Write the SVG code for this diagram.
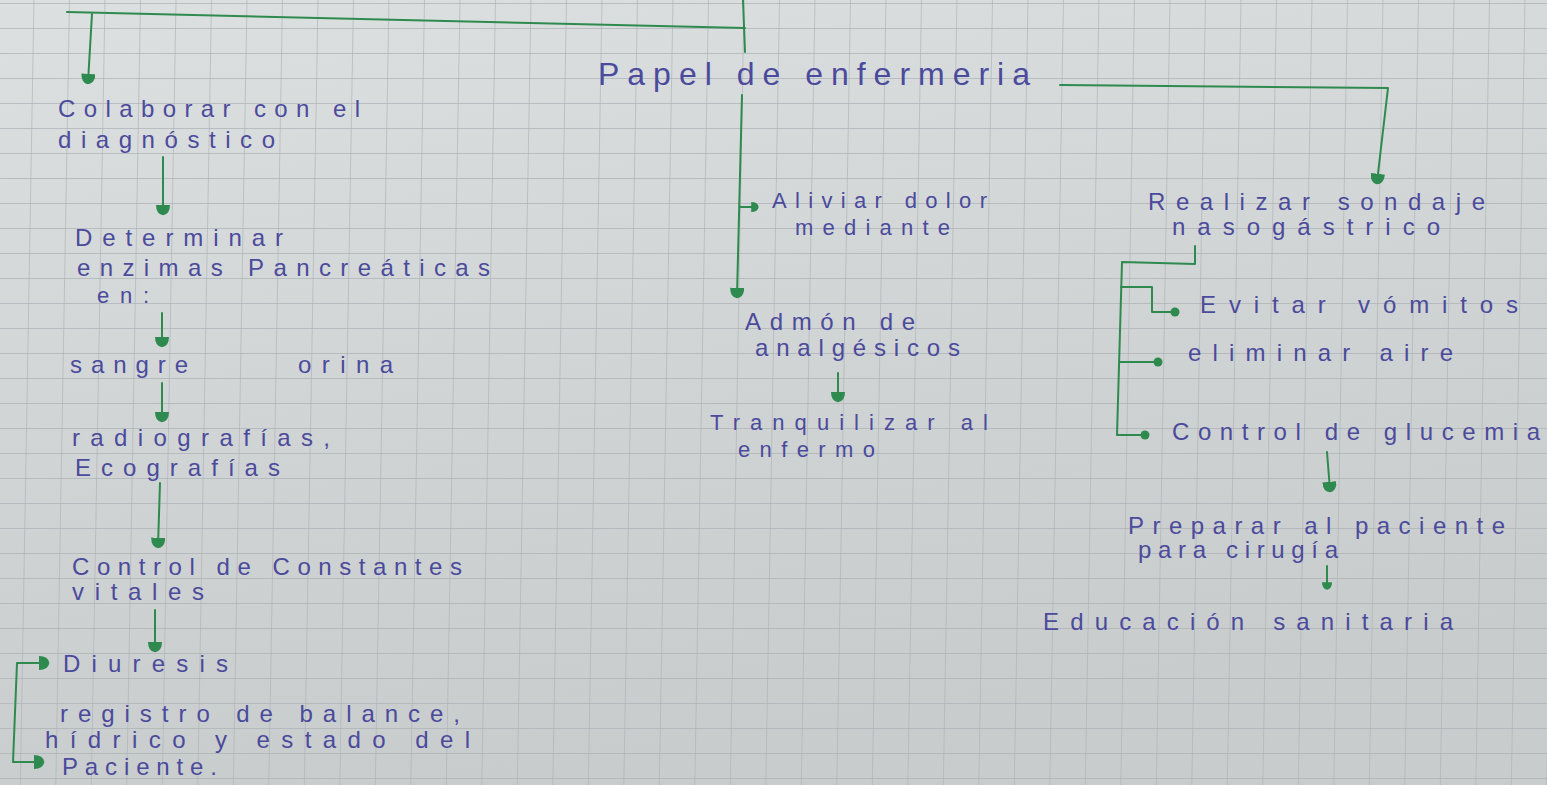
<svg xmlns="http://www.w3.org/2000/svg" width="1547" height="785" viewBox="0 0 1547 785">
<defs>
<linearGradient id="paper" x1="0" y1="0" x2="0.3" y2="1">
<stop offset="0" stop-color="#dde0e0"/>
<stop offset="0.6" stop-color="#cfd3d4"/>
<stop offset="1" stop-color="#c8cccd"/>
</linearGradient>
<pattern id="grid" x="33.5" y="3" width="35.5" height="25" patternUnits="userSpaceOnUse" patternTransform="skewX(-1)">
<path d="M0,0 V25 M0,0 H35.5" fill="none" stroke="#adb2b7" stroke-width="1.3"/>
</pattern>
<marker id="head" viewBox="0 -6 10 12" refX="7" refY="0" markerWidth="12" markerHeight="14" markerUnits="userSpaceOnUse" orient="auto-start-reverse">
<path d="M0,-6 Q0,0 0,6 Q8,6 9,0 Q8,-6 0,-6 Z" fill="#2e8a4e"/>
</marker>
<marker id="headS" viewBox="0 -6 10 12" refX="7" refY="0" markerWidth="9" markerHeight="10" markerUnits="userSpaceOnUse" orient="auto">
<path d="M0,-6 Q0,0 0,6 Q8,6 9,0 Q8,-6 0,-6 Z" fill="#2e8a4e"/>
</marker>
<marker id="dot" viewBox="-5 -5 10 10" refX="0" refY="0" markerWidth="10" markerHeight="10" markerUnits="userSpaceOnUse">
<circle r="4.5" fill="#2e8a4e"/>
</marker>
<style>
.t{font-family:"Liberation Sans","DejaVu Sans",sans-serif;font-size:24px;fill:#4b4a9c;}
.s{font-size:22px;}
.big{font-size:32px;}
.c{fill:none;stroke:#2e8a4e;stroke-width:2;stroke-linecap:round;stroke-linejoin:round;}
</style>
</defs>
<rect width="1547" height="785" fill="url(#paper)"/>
<rect width="1547" height="785" fill="url(#grid)"/>

<g id="connectors">
<path class="c" d="M67,12 L745,28"/>
<path class="c" d="M743,0 L745,52"/>
<path class="c" d="M92,14 L88,82" marker-end="url(#head)"/>
<path class="c" d="M742,95 L737,296" marker-end="url(#head)"/>
<path class="c" d="M740,207 L757,207" marker-end="url(#headS)"/>
<path class="c" d="M1060,85 L1388,88 L1377,182" marker-end="url(#head)"/>
<path class="c" d="M163,157 L163,213" marker-end="url(#head)"/>
<path class="c" d="M162,313 L162,345" marker-end="url(#head)"/>
<path class="c" d="M162,383 L162,420" marker-end="url(#head)"/>
<path class="c" d="M160,483 L158,546" marker-end="url(#head)"/>
<path class="c" d="M155,610 L155,650" marker-end="url(#head)"/>
<path class="c" d="M47,663 L17,663 L13,762 L42,762" marker-start="url(#head)" marker-end="url(#head)"/>
<path class="c" d="M838,373 L838,400" marker-end="url(#head)"/>
<path class="c" d="M1195,246 L1195,264 L1122,262 L1117,435 L1145,435" marker-end="url(#dot)"/>
<path class="c" d="M1121,287 L1152,287 L1152,312 L1175,312" marker-end="url(#dot)"/>
<path class="c" d="M1120,362 L1158,362" marker-end="url(#dot)"/>
<path class="c" d="M1327,452 L1330,490" marker-end="url(#head)"/>
<path class="c" d="M1327,566 L1327,588" marker-end="url(#headS)"/>
</g>

<g id="n-papel"><text class="t big" x="598" y="85" textLength="432" lengthAdjust="spacing">Papel de enfermeria</text></g>
<g id="n-colaborar">
<text class="t" x="58" y="117" textLength="302" lengthAdjust="spacing">Colaborar con el</text>
<text class="t" x="58" y="148" textLength="217" lengthAdjust="spacing">diagnóstico</text>
</g>
<g id="n-determinar">
<text class="t" x="75" y="246" textLength="208" lengthAdjust="spacing">Determinar</text>
<text class="t" x="77" y="276" textLength="413" lengthAdjust="spacing">enzimas Pancreáticas</text>
<text class="t s" x="97" y="303" textLength="52" lengthAdjust="spacing">en:</text>
</g>
<g id="n-sangre">
<text class="t" x="70" y="373" textLength="118" lengthAdjust="spacing">sangre</text>
<text class="t" x="298" y="373" textLength="95" lengthAdjust="spacing">orina</text>
</g>
<g id="n-radiografias">
<text class="t" x="72" y="446" textLength="258" lengthAdjust="spacing">radiografías,</text>
<text class="t" x="75" y="476" textLength="205" lengthAdjust="spacing">Ecografías</text>
</g>
<g id="n-constantes">
<text class="t" x="72" y="575" textLength="390" lengthAdjust="spacing">Control de Constantes</text>
<text class="t" x="72" y="600" textLength="132" lengthAdjust="spacing">vitales</text>
</g>
<g id="n-diuresis"><text class="t" x="63" y="672" textLength="165" lengthAdjust="spacing">Diuresis</text></g>
<g id="n-registro">
<text class="t" x="60" y="722" textLength="400" lengthAdjust="spacing">registro de balance,</text>
<text class="t" x="45" y="748" textLength="425" lengthAdjust="spacing">hídrico y estado del</text>
<text class="t" x="62" y="775" textLength="155" lengthAdjust="spacing">Paciente.</text>
</g>
<g id="n-aliviar">
<text class="t s" x="772" y="208" textLength="215" lengthAdjust="spacing">Aliviar dolor</text>
<text class="t s" x="795" y="235" textLength="155" lengthAdjust="spacing">mediante</text>
</g>
<g id="n-admon">
<text class="t" x="745" y="330" textLength="170" lengthAdjust="spacing">Admón de</text>
<text class="t" x="755" y="356" textLength="205" lengthAdjust="spacing">analgésicos</text>
</g>
<g id="n-tranquilizar">
<text class="t s" x="710" y="430" textLength="278" lengthAdjust="spacing">Tranquilizar al</text>
<text class="t s" x="738" y="457" textLength="137" lengthAdjust="spacing">enfermo</text>
</g>
<g id="n-sondaje">
<text class="t" x="1148" y="210" textLength="337" lengthAdjust="spacing">Realizar sondaje</text>
<text class="t" x="1172" y="235" textLength="268" lengthAdjust="spacing">nasogástrico</text>
</g>
<g id="n-evitar"><text class="t" x="1200" y="313" textLength="318" lengthAdjust="spacing">Evitar vómitos</text></g>
<g id="n-eliminar"><text class="t" x="1188" y="361" textLength="265" lengthAdjust="spacing">eliminar aire</text></g>
<g id="n-glucemia"><text class="t" x="1172" y="440" textLength="368" lengthAdjust="spacing">Control de glucemia</text></g>
<g id="n-preparar">
<text class="t" x="1128" y="534" textLength="377" lengthAdjust="spacing">Preparar al paciente</text>
<text class="t" x="1138" y="558" textLength="200" lengthAdjust="spacing">para cirugía</text>
</g>
<g id="n-educacion"><text class="t" x="1043" y="630" textLength="410" lengthAdjust="spacing">Educación sanitaria</text></g>
</svg>
